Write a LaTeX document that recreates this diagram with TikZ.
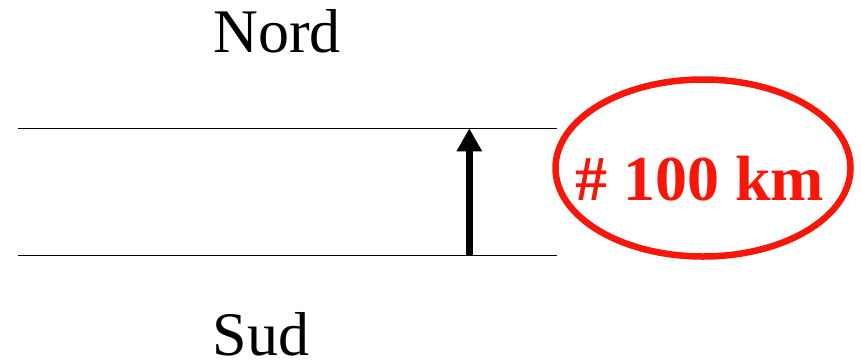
\documentclass[tikz,border=0pt]{standalone}
\usepackage{fontspec}
\setmainfont{Liberation Serif}
\usetikzlibrary{arrows.meta,shapes.geometric}
\definecolor{mred}{RGB}{246,22,10}
\begin{document}
\begin{tikzpicture}[x=1pt,y=-1pt,
  thinline/.style={line width=1.3pt,black},
  bigtext/.style={font=\fontsize{62}{70}\selectfont,inner sep=0pt,anchor=base},
  redtext/.style={font=\fontsize{64}{72}\selectfont\bfseries,text=mred,inner sep=0pt,anchor=base},
  arr/.style={line width=6.5pt,-{Triangle[length=23pt,width=24pt]}}]
\useasboundingbox (0,0) rectangle (861,362);
\node[bigtext] (nord) at (277,52.3) {Nord};
\node[bigtext] (sud) at (261,355) {Sud};
\coordinate (tl) at (18,128.3);
\coordinate (tr) at (556.7,128.3);
\coordinate (bl) at (18,255.7);
\coordinate (br) at (556.7,255.7);
\draw[thinline] (tl) -- (tr);
\draw[thinline] (bl) -- (br);
\coordinate (abot) at (469.3,255.7);
\coordinate (atop) at (469.3,128.3);
\draw[arr] (abot) -- (atop);
\node[draw=mred,line width=6.5pt,ellipse,minimum width=295pt,minimum height=177pt,inner sep=0pt] (dist) at (703,168) {};
\node[redtext] (lbl) at (699.5,200) {\# 100 km};
\end{tikzpicture}
\end{document}
